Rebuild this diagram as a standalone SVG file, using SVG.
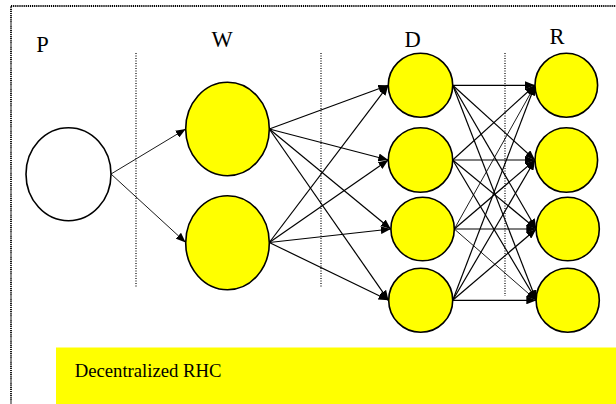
<svg xmlns="http://www.w3.org/2000/svg" width="616" height="404" viewBox="0 0 616 404">
<defs>
<style>
.lbl{font-family:"Liberation Serif","Times New Roman",serif;font-size:22.5px;fill:#000}
.cap{font-family:"Liberation Serif","Times New Roman",serif;font-size:18.7px;fill:#000}
.node{stroke:#000;stroke-width:1.6}
.y{fill:#FFFF00}
.w{fill:#FFFFFF}
.sep{stroke:#000;stroke-width:1.2;stroke-dasharray:1 1.5;fill:none}
.frame{stroke:#000;stroke-width:1.8;stroke-dasharray:1.2 0.9;fill:none}
.e{stroke:#000;stroke-width:1.2;fill:none;marker-end:url(#ah)}
.thin{stroke-width:0.9}
</style>
<marker id="ah" markerUnits="userSpaceOnUse" markerWidth="10" markerHeight="8" refX="10" refY="4" orient="auto" viewBox="0 0 10 8">
<path d="M0,0 L10,4 L0,8 z" fill="#000"/>
</marker>
</defs>
<rect x="0" y="0" width="616" height="404" fill="#fff"/>
<rect class="frame" x="11" y="6" width="700" height="500"/>
<g id="separators">
<line class="sep" x1="136" y1="53" x2="136" y2="288"/>
<line class="sep" x1="321" y1="53" x2="321" y2="288"/>
<line class="sep" x1="505" y1="53" x2="505" y2="296"/>
</g>
<g id="labels">
<text class="lbl" x="36.3" y="51.5">P</text>
<text class="lbl" x="211.5" y="46.7">W</text>
<text class="lbl" x="404.6" y="47">D</text>
<text class="lbl" x="549.6" y="43.5">R</text>
</g>
<g id="caption">
<rect x="56" y="347.5" width="560" height="57" fill="#FFFF00"/>
<text class="cap" x="74.7" y="377">Decentralized RHC</text>
</g>
<g id="connectors">
<line class="e thin" x1="111" y1="174" x2="185.7" y2="129"/>
<line class="e thin" x1="111" y1="174" x2="185.7" y2="242.5"/>
<line class="e" x1="269.3" y1="129" x2="388.3" y2="85.3"/>
<line class="e" x1="269.3" y1="129" x2="388.3" y2="160"/>
<line class="e" x1="269.3" y1="129" x2="390.8" y2="229"/>
<line class="e" x1="269.3" y1="129" x2="388.5" y2="300.3"/>
<line class="e" x1="269.3" y1="242.5" x2="388.3" y2="85.3"/>
<line class="e" x1="269.3" y1="242.5" x2="388.3" y2="160"/>
<line class="e" x1="269.3" y1="242.5" x2="390.8" y2="229"/>
<line class="e" x1="269.3" y1="242.5" x2="388.5" y2="300.3"/>
<line class="e" x1="452.7" y1="85.3" x2="535" y2="85.3"/>
<line class="e" x1="452.7" y1="85.3" x2="535" y2="160"/>
<line class="e" x1="452.7" y1="85.3" x2="536.3" y2="229"/>
<line class="e" x1="452.7" y1="85.3" x2="536.3" y2="300.3"/>
<line class="e" x1="452.7" y1="160" x2="535" y2="85.3"/>
<line class="e" x1="452.7" y1="160" x2="535" y2="160"/>
<line class="e" x1="452.7" y1="160" x2="536.3" y2="229"/>
<line class="e" x1="452.7" y1="160" x2="536.3" y2="300.3"/>
<line class="e thin" x1="454.3" y1="229" x2="535" y2="85.3"/>
<line class="e" x1="454.3" y1="229" x2="535" y2="160"/>
<line class="e" x1="454.3" y1="229" x2="536.3" y2="229"/>
<line class="e thin" x1="454.3" y1="229" x2="536.3" y2="300.3"/>
<line class="e" x1="452.7" y1="300.3" x2="535" y2="85.3"/>
<line class="e" x1="452.7" y1="300.3" x2="535" y2="160"/>
<line class="e" x1="452.7" y1="300.3" x2="536.3" y2="229"/>
<line class="e" x1="452.7" y1="300.3" x2="536.3" y2="300.3"/>
</g>
<g id="node-P"><ellipse class="node w" cx="68.5" cy="174.2" rx="42.5" ry="46.5"/></g>
<g id="node-W1"><ellipse class="node y" cx="227.5" cy="129" rx="41.8" ry="46.7"/></g>
<g id="node-W2"><ellipse class="node y" cx="227.5" cy="242.7" rx="41.8" ry="47"/></g>
<g id="node-D1"><ellipse class="node y" cx="420.5" cy="85.3" rx="32.2" ry="32"/></g>
<g id="node-D2"><ellipse class="node y" cx="420.5" cy="160" rx="32.2" ry="32.3"/></g>
<g id="node-D3"><ellipse class="node y" cx="422.6" cy="229" rx="31.7" ry="31.8"/></g>
<g id="node-D4"><ellipse class="node y" cx="420.7" cy="300.3" rx="32" ry="32"/></g>
<g id="node-R1"><ellipse class="node y" cx="566.3" cy="85.3" rx="31.3" ry="32"/></g>
<g id="node-R2"><ellipse class="node y" cx="566.3" cy="160" rx="31.3" ry="32.3"/></g>
<g id="node-R3"><ellipse class="node y" cx="567.7" cy="229" rx="31.6" ry="31.8"/></g>
<g id="node-R4"><ellipse class="node y" cx="567.7" cy="300.3" rx="31.6" ry="32"/></g>
</svg>
